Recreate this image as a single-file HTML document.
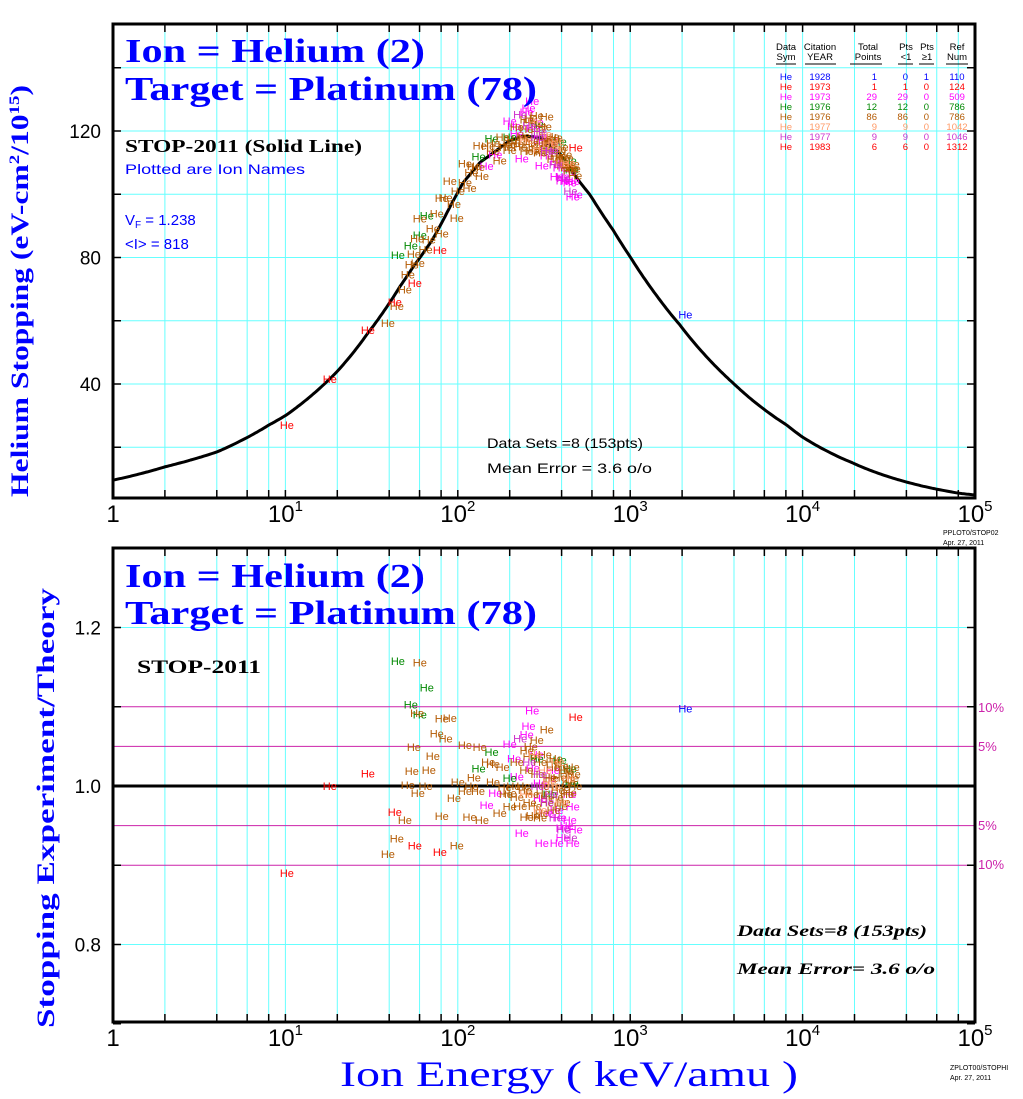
<!DOCTYPE html>
<html><head><meta charset="utf-8"><style>
html,body{margin:0;padding:0;background:#fff}
svg{display:block}
.sans{font-family:"Liberation Sans","DejaVu Sans",sans-serif}
.serif{font-family:"Liberation Serif","DejaVu Serif",serif}
</style></head><body>
<svg id="chart" width="1023" height="1099" viewBox="0 0 1023 1099" xmlns="http://www.w3.org/2000/svg">
<g id="grid"></g>
<g id="marks"></g>
<g id="frames"></g>
<g id="texts">
  <text class="serif" x="125" y="62" font-size="34" font-weight="bold" fill="#0000ff" textLength="300" lengthAdjust="spacingAndGlyphs">Ion = Helium (2)</text>
  <text class="serif" x="125" y="100" font-size="34" font-weight="bold" fill="#0000ff" textLength="412" lengthAdjust="spacingAndGlyphs">Target = Platinum (78)</text>
  <text class="serif" x="125" y="152" font-size="18" font-weight="bold" fill="#000" textLength="237" lengthAdjust="spacingAndGlyphs">STOP-2011 (Solid Line)</text>
  <text class="sans" x="125" y="174" font-size="14" fill="#0000ff" textLength="180" lengthAdjust="spacingAndGlyphs">Plotted are Ion Names</text>
  <text class="sans" x="125" y="225" font-size="15" fill="#0000ff">V<tspan font-size="10" dy="3">F</tspan><tspan dy="-3">  = 1.238</tspan></text>
  <text class="sans" x="125" y="249" font-size="15" fill="#0000ff">&lt;I&gt; = 818</text>
  <text class="sans" x="487" y="448" font-size="14" fill="#000" textLength="156" lengthAdjust="spacingAndGlyphs">Data Sets =8 (153pts)</text>
  <text class="sans" x="487" y="473" font-size="14" fill="#000" textLength="165" lengthAdjust="spacingAndGlyphs">Mean Error =  3.6 o/o</text>
  <text class="serif" x="125" y="587" font-size="34" font-weight="bold" fill="#0000ff" textLength="300" lengthAdjust="spacingAndGlyphs">Ion = Helium (2)</text>
  <text class="serif" x="125" y="624" font-size="34" font-weight="bold" fill="#0000ff" textLength="412" lengthAdjust="spacingAndGlyphs">Target = Platinum (78)</text>
  <text class="serif" x="137" y="673" font-size="19" font-weight="bold" fill="#000" textLength="124" lengthAdjust="spacingAndGlyphs">STOP-2011</text>
  <text class="serif" x="737" y="936" font-size="16" font-weight="bold" font-style="italic" fill="#000" textLength="190" lengthAdjust="spacingAndGlyphs">Data Sets=8 (153pts)</text>
  <text class="serif" x="737" y="974" font-size="16" font-weight="bold" font-style="italic" fill="#000" textLength="198" lengthAdjust="spacingAndGlyphs">Mean Error=  3.6 o/o</text>
  <text class="serif" transform="translate(28,291) rotate(-90)" text-anchor="middle" font-size="25" font-weight="bold" fill="#0000ff" textLength="412" lengthAdjust="spacingAndGlyphs">Helium Stopping (eV-cm<tspan font-size="15" dy="-9">2</tspan><tspan dy="9">/10</tspan><tspan font-size="15" dy="-9">15</tspan><tspan dy="9">)</tspan></text>
  <text class="serif" transform="translate(54,808) rotate(-90)" text-anchor="middle" font-size="25" font-weight="bold" fill="#0000ff" textLength="440" lengthAdjust="spacingAndGlyphs">Stopping   Experiment/Theory</text>
  <text class="serif" x="340" y="1086" font-size="36" fill="#0000ff" textLength="458" lengthAdjust="spacingAndGlyphs">Ion  Energy  ( keV/amu )</text>
  <text class="sans" x="943" y="535" font-size="7" fill="#000">PPLOT0/STOP02</text>
  <text class="sans" x="943" y="545" font-size="7" fill="#000">Apr. 27, 2011</text>
  <text class="sans" x="950" y="1070" font-size="7" fill="#000">ZPLOT00/STOPHI</text>
  <text class="sans" x="950" y="1080" font-size="7" fill="#000">Apr. 27, 2011</text>
  <text class="sans" x="978" y="712" font-size="13" fill="#cc22aa">10%</text>
  <text class="sans" x="978" y="751" font-size="13" fill="#cc22aa">5%</text>
  <text class="sans" x="978" y="830" font-size="13" fill="#cc22aa">5%</text>
  <text class="sans" x="978" y="869" font-size="13" fill="#cc22aa">10%</text>
</g>
<g id="legend" class="sans" font-size="9.5">
  <text x="786" y="50" text-anchor="middle">Data<tspan x="786" dy="10">Sym</tspan></text>
  <text x="820" y="50" text-anchor="middle">Citation<tspan x="820" dy="10">YEAR</tspan></text>
  <text x="868" y="50" text-anchor="middle">Total<tspan x="868" dy="10">Points</tspan></text>
  <text x="906" y="50" text-anchor="middle">Pts<tspan x="906" dy="10">&lt;1</tspan></text>
  <text x="927" y="50" text-anchor="middle">Pts<tspan x="927" dy="10">≥1</tspan></text>
  <text x="957" y="50" text-anchor="middle">Ref<tspan x="957" dy="10">Num</tspan></text>
  <g stroke="#000" stroke-width="1">
    <line x1="776" y1="64" x2="796" y2="64"/><line x1="805" y1="64" x2="836" y2="64"/>
    <line x1="850" y1="64" x2="882" y2="64"/><line x1="898" y1="64" x2="913" y2="64"/>
    <line x1="919" y1="64" x2="934" y2="64"/><line x1="946" y1="64" x2="968" y2="64"/>
  </g>
  <g id="legend-rows"></g>
</g>
<script>
// ---- data ----
const thE = [1, 2, 4, 8, 10, 20, 30, 46, 55, 71, 92, 107, 134, 200, 239, 300, 390, 508, 585, 795, 1000, 1940, 3950, 8100, 10000, 19600, 40000, 80000, 100000];
const thS = [9.6, 13.8, 18.5, 27, 30, 44, 56, 70.7, 77, 85.5, 97, 103.6, 110, 117, 118.4, 118, 113, 104, 99.8, 88.7, 80.2, 58.7, 40.3, 27, 23.2, 15, 9, 5.5, 4.9];
const xTickLabels = ["1", "10", "10", "10", "10", "10"];
const xTickExp = ["", "1", "2", "3", "4", "5"];
const topYTicks = [40, 80, 120];
const botYTicks = [1.2, 1.0, 0.8];
const setColors = ["#0000ff", "#ff0000", "#ff00ff", "#008800", "#b35900", "#ff9966", "#cc33cc", "#ff0000"];
const setYears = ["1928", "1973", "1973", "1976", "1976", "1977", "1977", "1983"];
const setTotal = ["1", "1", "29", "12", "86", "9", "9", "6"];
const setLt1 = ["0", "1", "29", "12", "86", "9", "9", "6"];
const setGe1 = ["1", "0", "0", "0", "0", "0", "0", "0"];
const setRef = ["110", "124", "509", "786", "786", "1042", "1046", "1312"];
const set0E = [2090]; const set0R = [1.098];
const set1E = [10.2]; const set1R = [0.89];
const set2E = [270, 257, 200, 212, 272, 300, 165, 147, 235, 307, 375, 464, 406, 446, 375, 464, 328, 356, 300, 406, 428, 341, 287, 251, 390, 446, 311, 220, 483];
const set2R = [1.095, 1.076, 1.053, 1.035, 1.023, 1.004, 0.991, 0.976, 0.941, 0.928, 0.928, 0.928, 0.947, 0.957, 0.970, 0.974, 0.966, 1.020, 0.985, 0.935, 0.950, 1.01, 1.04, 1.065, 0.96, 0.99, 1.0, 1.012, 0.945];
const set3E = [44.9, 66.1, 53.4, 157, 132, 287, 390, 446, 458, 60.2, 200, 341];
const set3R = [1.158, 1.124, 1.103, 1.043, 1.022, 1.035, 1.033, 1.022, 1.004, 1.09, 1.01, 0.99];
const set4E = [60.2, 58.1, 80.7, 89.9, 75.5, 55.6, 71.6, 54.1, 67.9, 51.3, 58.6, 100, 124, 110, 134, 110, 131, 160, 187, 160, 182, 220, 251, 287, 328, 261, 49.3, 80.7, 117, 138, 175, 44.3, 39.3, 98.6, 200, 220, 261, 272, 311, 328, 375, 406, 428, 464, 356, 341, 390, 446, 307, 251, 200, 240, 300, 350, 420, 480, 270, 230, 380, 320, 290, 410, 440, 360, 250, 310, 330, 400, 460, 280, 210, 190, 150, 120, 95, 85, 65, 370, 340, 300, 265, 245, 430, 470, 395, 355];
const set4R = [1.156, 1.092, 1.085, 1.086, 1.066, 1.049, 1.038, 1.019, 1.020, 1.001, 0.991, 1.005, 1.011, 1.052, 1.049, 0.994, 0.994, 1.005, 0.999, 1.028, 1.024, 1.030, 1.045, 1.058, 1.071, 1.037, 0.957, 0.962, 0.961, 0.957, 0.966, 0.934, 0.914, 0.925, 0.974, 0.986, 0.979, 0.963, 0.991, 0.979, 0.986, 0.999, 1.016, 1.024, 1.024, 1.011, 1.011, 0.992, 0.966, 0.961, 0.991, 1.0, 1.03, 1.01, 1.02, 1.0, 0.99, 0.975, 0.995, 1.04, 1.015, 0.98, 1.005, 0.97, 1.02, 1.0, 0.985, 1.025, 1.01, 0.975, 1.0, 0.99, 1.03, 1.0, 0.985, 1.06, 1.0, 1.035, 1.005, 0.96, 1.05, 0.995, 0.99, 1.015, 0.975, 1.03];
const set5E = [320, 360, 400, 280, 440, 250, 380, 300, 340];
const set5R = [1.02, 1.0, 0.98, 1.04, 1.01, 0.99, 1.03, 0.97, 1.005];
const set6E = [230, 260, 290, 330, 370, 410, 450, 300, 350];
const set6R = [1.06, 1.03, 1.0, 0.98, 0.96, 0.945, 0.935, 1.015, 0.99];
const set7E = [18.1, 30.1, 43.1, 56.3, 78.7, 483];
const set7R = [1.0, 1.016, 0.967, 0.925, 0.917, 1.087];
const setsE = [set0E, set1E, set2E, set3E, set4E, set5E, set6E, set7E];
const setsR = [set0R, set1R, set2R, set3R, set4R, set5R, set6R, set7R];

// ---- axes ----
const X0 = 113, DEC = 172.4, XR = 975;
function xs(e){ return X0 + Math.log10(e) * DEC; }
const TT = 24, TB = 498;
function yTop(v){ return 131 + (120 - v) * 3.1625; }
const BT = 548, BB = 1022;
function yBot(r){ return 786 + (1 - r) * 792.5; }
function theory(e){
  const le = Math.log10(e);
  for (let i = 0; i < thE.length - 1; i++) {
    const a = Math.log10(thE[i]), b = Math.log10(thE[i+1]);
    if (le <= b || i === thE.length - 2) {
      const t = (le - a) / (b - a);
      return Math.pow(10, Math.log10(thS[i]) + t * (Math.log10(thS[i+1]) - Math.log10(thS[i])));
    }
  }
}
const NS = "http://www.w3.org/2000/svg";
function mk(parent, tag, attrs){ const el = document.createElementNS(NS, tag); for (const k in attrs) el.setAttribute(k, attrs[k]); parent.appendChild(el); return el; }
const grid = document.getElementById('grid'), marks = document.getElementById('marks'), frames = document.getElementById('frames'), texts = document.getElementById('texts');

for (let d = 0; d < 5; d++) {
  [1,2,4,6,8].forEach(m => {
    const x = xs(m * Math.pow(10, d));
    if (m === 1 && d === 0) return;
    [[TT, TB], [BT, BB]].forEach(([a, b]) => {
      const l = mk(grid, 'line', {x1:x, y1:a, x2:x, y2:b, stroke:'#66ffff', 'stroke-width':1});
      
      
      const t1 = mk(frames, 'line', {x1:x, y1:a, x2:x, y2:a+8, stroke:'#000', 'stroke-width':1.5});
      
      
      const t2 = mk(frames, 'line', {x1:x, y1:b, x2:x, y2:b-8, stroke:'#000', 'stroke-width':1.5});
      
      
    });
  });
}
for (let v = 20; v <= 140; v += 20) {
  const y = yTop(v);
  const l = mk(grid, 'line', {x1:X0, y1:y, x2:XR, y2:y, stroke:'#66ffff', 'stroke-width':1});
  
  
  [[X0, X0+8], [XR, XR-8]].forEach(([a, b]) => {
    const t = mk(frames, 'line', {x1:a, y1:y, x2:b, y2:y, stroke:'#000', 'stroke-width':1.5});
    
    
  });
}
[1.2, 0.8].forEach(r => {
  const y = yBot(r);
  const l = mk(grid, 'line', {x1:X0, y1:y, x2:XR, y2:y, stroke:'#66ffff', 'stroke-width':1});
  
  
});
[1.1, 1.05, 0.95, 0.9].forEach(r => {
  const y = yBot(r);
  const l = mk(grid, 'line', {x1:X0, y1:y, x2:XR, y2:y, stroke:'#cc22aa', 'stroke-width':1});
  
  
});
[1.3,1.2,1.1,1.0,0.9,0.8,0.7].forEach(r => {
  const y = yBot(r);
  [[X0, X0+8], [XR, XR-8]].forEach(([a, b]) => {
    const t = mk(frames, 'line', {x1:a, y1:y, x2:b, y2:y, stroke:'#000', 'stroke-width':1.5});
    
    
  });
});
const band = mk(grid, 'line', {x1:XR, y1:yBot(1.1), x2:XR, y2:yBot(0.9), stroke:'#cc22aa', 'stroke-width':2});


const unity = mk(marks, 'line', {x1:X0, y1:yBot(1), x2:XR, y2:yBot(1), stroke:'#000', 'stroke-width':3});



let d = '';
for (let i = 0; i <= 400; i++) {
  const e = Math.pow(10, 5 * i / 400);
  d += (i ? 'L' : 'M') + xs(e).toFixed(1) + ',' + yTop(theory(e)).toFixed(1);
}
const curve = mk(marks, 'path', {d:d, fill:'none', stroke:'#000', 'stroke-width':3, 'stroke-linejoin':'round'});



setsE.forEach((arr, si) => {
  arr.forEach((e, i) => {
    const r = setsR[si][i];
    const x = xs(e);
    const t1 = mk(marks, 'text', {x:x, y:yTop(r * theory(e)) + 4, 'text-anchor':'middle', 'font-size':11, fill:setColors[si], class:'sans'});
    t1.textContent = 'He';
    
    
    const t2 = mk(marks, 'text', {x:x, y:yBot(r) + 4, 'text-anchor':'middle', 'font-size':11, fill:setColors[si], class:'sans'});
    t2.textContent = 'He';
    
    
  });
});

[[TT, TB], [BT, BB]].forEach(([a, b]) => {
  const f = mk(frames, 'rect', {x:X0, y:a, width:XR - X0, height:b - a, fill:'none', stroke:'#000', 'stroke-width':3});
  
  
});

[522, 1046].forEach(yy => {
  xTickLabels.forEach((lab, i) => {
    const t = mk(texts, 'text', {x:xs(Math.pow(10, i)), y:yy, 'text-anchor':'middle', 'font-size':24, class:'sans', fill:'#000'});
    t.textContent = lab;
    if (xTickExp[i]) { const s = mk(t, 'tspan', {'font-size':15, dy:-11}); s.textContent = xTickExp[i]; }
    
    
  });
});
topYTicks.forEach(v => {
  const t = mk(texts, 'text', {x:101, y:yTop(v) + 7, 'text-anchor':'end', 'font-size':19, class:'sans', fill:'#000'});
  t.textContent = String(v);
  
  
});
botYTicks.forEach(v => {
  const t = mk(texts, 'text', {x:101, y:yBot(v) + 7, 'text-anchor':'end', 'font-size':19, class:'sans', fill:'#000'});
  t.textContent = v.toFixed(1);
  
  
});

const lr = document.getElementById('legend-rows');
setColors.forEach((c, i) => {
  const y = 80 + i * 10;
  const cols = [[786, 'He'], [820, setYears[i]], [877, setTotal[i]], [908, setLt1[i]], [929, setGe1[i]], [957, setRef[i]]];
  cols.forEach(([x, s], j) => {
    const t = mk(lr, 'text', {x:x, y:y, 'text-anchor': j >= 2 && j <= 4 ? 'end' : 'middle', fill:c});
    t.textContent = s;
    
    
  });
});
</script>
</svg>
</body></html>
